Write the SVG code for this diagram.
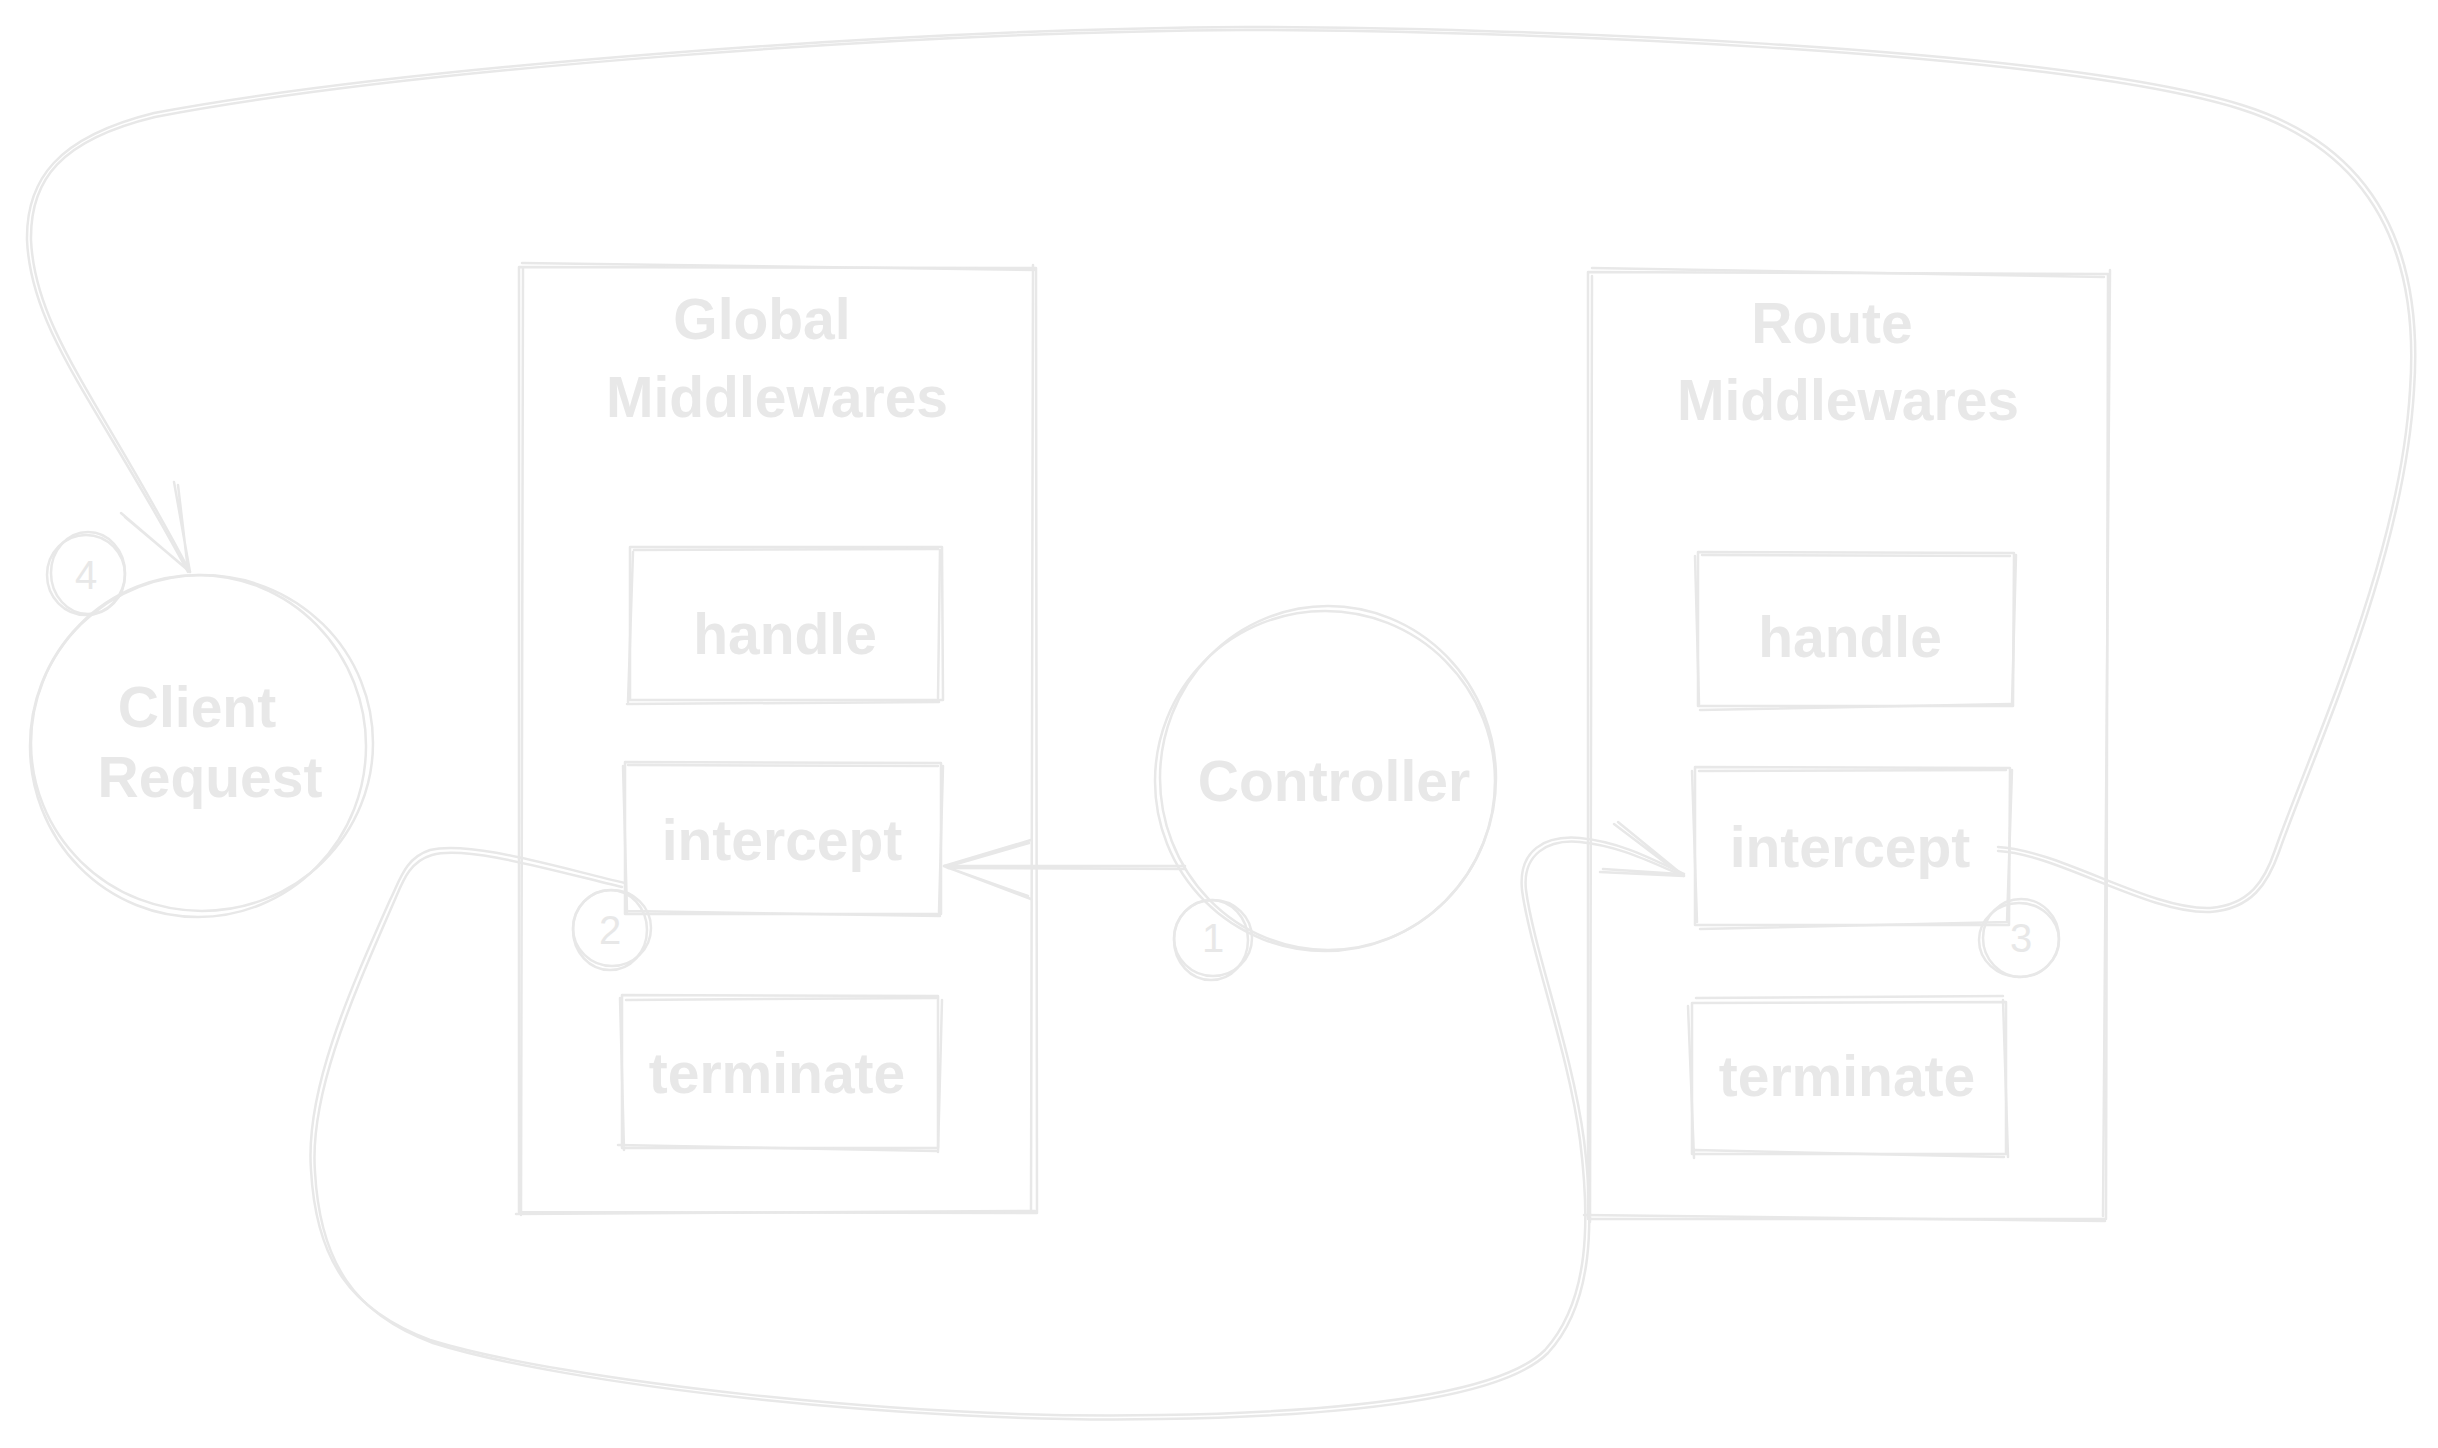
<svg xmlns="http://www.w3.org/2000/svg" width="2438" height="1448" viewBox="0 0 2438 1448">
<style>
.s{fill:none;stroke:#e8e8e8;stroke-width:2.5;stroke-linecap:round;stroke-linejoin:round}
.t{fill:#e8e8e8;font-family:"Liberation Sans","Noto Sans",sans-serif;text-anchor:middle;dominant-baseline:central;font-weight:bold}
.lg{font-size:57px}
.sm{font-size:40px;font-weight:normal}
</style>
<rect width="2438" height="1448" fill="#ffffff"/>
<g id="client-request">
<ellipse class="s" cx="202" cy="743" rx="171" ry="168"/>
<ellipse class="s" cx="198" cy="746" rx="168" ry="171"/>
<text class="t lg" x="197" y="707">Client</text>
<text class="t lg" x="210" y="777">Request</text>
</g>
<g id="badge-4">
<ellipse class="s" cx="86" cy="575" rx="39" ry="40"/>
<ellipse class="s" cx="88" cy="573" rx="37" ry="41"/>
<text class="t sm" x="86" y="575">4</text>
</g>
<g id="global-middlewares">
<path class="s" d="M519 267 L1036 268 L1037 1213 L519 1212 Z"/>
<path class="s" d="M522 263 L1034 270 M1033 265 L1031 1210 M516 1214 L1035 1211 M523 268 L521 1215"/>
<text class="t lg" x="762" y="319">Global</text>
<text class="t lg" x="777" y="397">Middlewares</text>
</g>
<g id="global-handle">
<path class="s" d="M630 547 L942 547 L943 700 L630 700 Z"/>
<path class="s" d="M634 550 L938 549 M940 550 L938 698 M627 704 L939 702 M633 552 L628 702"/>
<text class="t lg" x="785" y="634">handle</text>
</g>
<g id="global-intercept">
<path class="s" d="M625 762 L941 763 L941 914 L625 914 Z"/>
<path class="s" d="M628 765 L938 766 M943 766 L939 912 M628 911 L940 916 M623 766 L627 912"/>
<text class="t lg" x="782" y="840">intercept</text>
</g>
<g id="global-terminate">
<path class="s" d="M622 995 L938 996 L938 1148 L622 1148 Z"/>
<path class="s" d="M626 1000 L936 998 M942 1000 L938 1152 M618 1145 L936 1151 M620 998 L624 1150"/>
<text class="t lg" x="777" y="1073">terminate</text>
</g>
<g id="badge-2">
<ellipse class="s" cx="610" cy="930" rx="37" ry="40"/>
<ellipse class="s" cx="612" cy="928" rx="39" ry="38"/>
<text class="t sm" x="610" y="930">2</text>
</g>
<g id="controller">
<ellipse class="s" cx="1325" cy="781" rx="170" ry="170"/>
<ellipse class="s" cx="1328" cy="778" rx="168" ry="172"/>
<text class="t lg" x="1334" y="781">Controller</text>
</g>
<g id="badge-1">
<ellipse class="s" cx="1213" cy="938" rx="39" ry="38"/>
<ellipse class="s" cx="1211" cy="940" rx="37" ry="40"/>
<text class="t sm" x="1213" y="938">1</text>
</g>
<g id="route-middlewares">
<path class="s" d="M1588 272 L2108 274 L2106 1219 L1588 1219 Z"/>
<path class="s" d="M1592 268 L2104 277 M2110 270 L2103 1216 M1584 1215 L2105 1221 M1592 276 L1590 1222"/>
<text class="t lg" x="1832" y="323">Route</text>
<text class="t lg" x="1848" y="400">Middlewares</text>
</g>
<g id="route-handle">
<path class="s" d="M1698 552 L2014 553 L2013 706 L1698 706 Z"/>
<path class="s" d="M1702 555 L2010 556 M2016 555 L2012 704 M1700 710 L2010 704 M1695 556 L1699 704"/>
<text class="t lg" x="1850" y="637">handle</text>
</g>
<g id="route-intercept">
<path class="s" d="M1695 767 L2010 768 L2009 925 L1695 925 Z"/>
<path class="s" d="M1699 771 L2006 770 M2012 770 L2007 922 M1700 929 L2008 922 M1692 771 L1697 922"/>
<text class="t lg" x="1850" y="847">intercept</text>
</g>
<g id="route-terminate">
<path class="s" d="M1692 1003 L2006 1002 L2006 1154 L1692 1154 Z"/>
<path class="s" d="M1696 998 L2003 996 M2003 1000 L2008 1157 M1695 1150 L2004 1157 M1688 1006 L1694 1158"/>
<text class="t lg" x="1847" y="1076">terminate</text>
</g>
<g id="badge-3">
<ellipse class="s" cx="2021" cy="938" rx="38" ry="39"/>
<ellipse class="s" cx="2019" cy="940" rx="40" ry="37"/>
<text class="t sm" x="2021" y="938">3</text>
</g>
<g id="connectors">
<path class="s" d="M1185 866 L944 866 M1185 869 L948 868"/>
<path class="s" d="M1031 840 L944 866 L1031 899 M1029 843 L946 867 L1028 896"/>
<path class="s" d="M625 883 C560 868,470 840,430 850 C405 858,400 880,390 900 C350 990,305 1090,311 1170 C316 1260,350 1310,430 1340 C560 1380,900 1420,1160 1415 C1350 1412,1500 1395,1545 1350 C1590 1300,1590 1220,1580 1140 C1568 1050,1530 950,1522 890 C1518 850,1545 835,1580 838 C1620 842,1650 858,1684 874"/>
<path class="s" d="M622 887 C558 872,468 845,432 855 C408 862,402 884,393 904 C354 994,309 1093,315 1172 C320 1262,354 1314,433 1343 C562 1384,902 1424,1160 1419 C1352 1416,1503 1398,1548 1353 C1594 1303,1594 1222,1584 1140 C1572 1050,1534 950,1526 890 C1522 854,1548 839,1580 842 C1620 846,1650 862,1684 876"/>
<path class="s" d="M1618 822 L1684 876 L1600 872 M1614 824 L1680 874 L1603 869"/>
<path class="s" d="M1998 847 C2060 850,2150 910,2210 908 C2250 905,2265 880,2275 850 C2310 750,2400 560,2410 390 C2420 250,2370 150,2240 109 C2050 50,1500 30,1244 30 C900 32,400 70,155 117 C60 140,30 180,31 240 C35 330,100 400,190 572"/>
<path class="s" d="M1998 851 C2058 854,2148 914,2210 912 C2252 909,2268 883,2279 852 C2314 752,2404 562,2414 390 C2424 248,2374 146,2242 105 C2052 46,1500 27,1244 27 C900 29,400 67,154 113 C57 137,26 180,27 240 C31 332,98 404,188 572"/>
<path class="s" d="M121 513 L190 572 L174 482 M125 517 L188 570 L178 485"/>
</g>
</svg>
